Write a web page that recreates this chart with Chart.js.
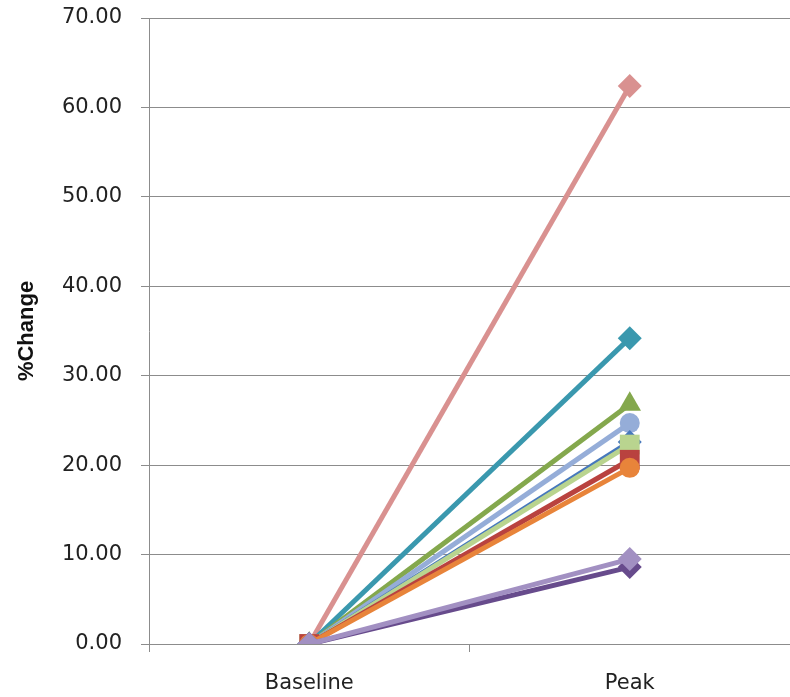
<!DOCTYPE html>
<html>
<head>
<meta charset="utf-8">
<script src="https://cdn.jsdelivr.net/npm/chart.js@4.4.1/dist/chart.umd.min.js"></script>
<style>
  html, body { margin: 0; padding: 0; background: #fff; }
  #wrap { width: 790px; height: 697px; position: relative; }
</style>
</head>
<body>
<div id="wrap"><canvas id="chart"></canvas></div>
<script>
// Categories and data
const categories = ['Baseline', 'Peak'];
const lightPurple = [0, 9.5];
const darkPurple = [0, 8.6];
const orangeSeries = [0, 19.7];
const redSeries = [0, 20.6];
const lightGreen = [0, 22.3];
const blueSeries = [0, 22.6];
const lightBlue = [0, 24.7];
const greenSeries = [0, 26.8];
const tealSeries = [0, 34.2];
const pinkSeries = [0, 62.4];
const yTicks = [0, 10, 20, 30, 40, 50, 60, 70];

// helper to build a dataset (first in list is drawn on top)
const series = (data, color, style, radius) => ({
    data: data,
    borderColor: color,
    backgroundColor: color,
    borderWidth: 5,
    pointStyle: style,
    pointRadius: radius,
    pointBorderWidth: 0,
    tension: 0
});

const ctx = document.getElementById('chart');
new Chart(ctx, {
    type: 'line',
    data: {
        labels: categories,
        datasets: [
            series(lightPurple, '#A290C2', 'rectRot', 12),
            series(darkPurple, '#674B8C', 'rectRot', 12),
            series(orangeSeries, '#E8843A', 'circle', 10),
            series(redSeries, '#B9423F', 'rect', 14),
            series(lightGreen, '#B9D48F', 'rect', 14),
            series(blueSeries, '#4678BC', 'rectRot', 12),
            series(lightBlue, '#95ADD8', 'circle', 10),
            series(greenSeries, '#84A84D', 'triangle', 13),
            series(tealSeries, '#3A98AE', 'rectRot', 12),
            series(pinkSeries, '#D99190', 'rectRot', 12)
        ]
    },
    options: {
        responsive: true,
        maintainAspectRatio: false,
        animation: false,
        layout: {
            autoPadding: false,
            padding: { top: 18, right: 0, bottom: 0, left: 0 }
        },
        plugins: {
            legend: { display: false },
            tooltip: { enabled: false }
        },
        scales: {
            x: {
                offset: true,
                afterFit: (axis) => {
                    axis.height = 53;
                    axis.paddingLeft = 0;
                    axis.paddingRight = 0;
                },
                grid: {
                    offset: true,
                    drawOnChartArea: false,
                    drawTicks: true,
                    tickLength: 8,
                    color: '#8c8c8c'
                },
                border: { color: '#8c8c8c', width: 1 },
                ticks: {
                    color: '#222',
                    padding: 19,
                    font: { family: 'DejaVu Sans', size: 21 }
                }
            },
            y: {
                min: 0,
                max: 70,
                afterFit: (axis) => {
                    axis.width = 149;
                    axis.paddingTop = 0;
                    axis.paddingBottom = 0;
                },
                afterBuildTicks: (axis) => {
                    axis.ticks = yTicks.map(v => ({ value: v }));
                },
                grid: {
                    color: '#8c8c8c',
                    tickLength: 8
                },
                border: { color: '#8c8c8c', width: 1 },
                ticks: {
                    color: '#222',
                    padding: 19,
                    font: { family: 'DejaVu Sans', size: 21 },
                    callback: (value) => Number(value).toFixed(2)
                },
                title: {
                    display: true,
                    text: '%Change',
                    color: '#111',
                    padding: { top: 14, bottom: 0 },
                    font: { family: 'Liberation Sans', size: 22, weight: 'bold' }
                }
            }
        }
    }
});
</script>
</body>
</html>
